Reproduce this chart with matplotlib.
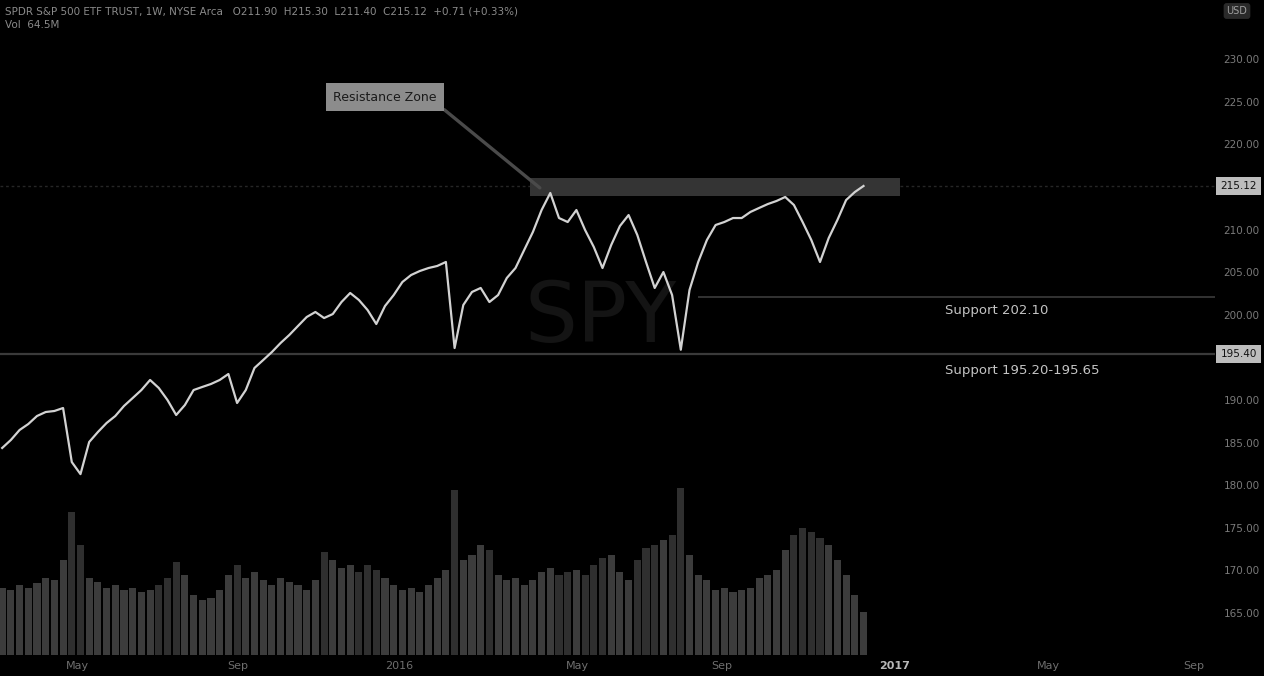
import matplotlib.pyplot as plt
from matplotlib.patches import Rectangle

# Weekly closes
closes = [184.37, 185.31, 186.48, 187.18, 188.12, 188.59, 188.71, 189.06, 182.72, 181.30,
          185.07, 186.24, 187.30, 188.12, 189.30, 190.23, 191.17, 192.35, 191.41, 190.00,
          188.24, 189.41, 191.17, 191.53, 191.88, 192.35, 193.05, 189.65, 191.17, 193.76,
          194.69, 195.63, 196.69, 197.63, 198.69, 199.74, 200.33, 199.62, 200.09, 201.50,
          202.56, 201.74, 200.56, 198.92, 201.03, 202.32, 203.85, 204.67, 205.14, 205.49,
          205.73, 206.20, 196.10, 201.15, 202.68, 203.15, 201.50, 202.32, 204.32, 205.49,
          207.61, 209.72, 212.30, 214.30, 211.36, 210.89, 212.30, 209.95, 207.96, 205.49,
          208.19, 210.42, 211.71, 209.37, 206.20, 203.15, 205.02, 202.32, 195.90, 202.91,
          206.20, 208.78, 210.54, 210.89, 211.36, 211.36, 212.07, 212.54, 213.00, 213.36,
          213.83, 212.89, 210.89, 208.78, 206.20, 209.01, 211.13, 213.47, 214.41, 215.12]

# Weekly volume, millions
volume = [100.5, 97.5, 105, 100.5, 108, 115.5, 112.5, 142.5, 214.5, 165,
          115.5, 109.5, 100.5, 105, 97.5, 100.5, 94.5, 97.5, 105, 115.5,
          139.5, 120, 90, 82.5, 85.5, 97.5, 120, 135, 115.5, 124.5,
          112.5, 105, 115.5, 109.5, 105, 97.5, 112.5, 154.5, 142.5, 130.5,
          135, 124.5, 135, 127.5, 115.5, 105, 97.5, 100.5, 94.5, 105,
          115.5, 127.5, 247.5, 142.5, 150, 165, 157.5, 120, 112.5, 115.5,
          105, 112.5, 124.5, 130.5, 120, 124.5, 127.5, 120, 135, 145.5,
          150, 124.5, 112.5, 142.5, 160.5, 165, 172.5, 180, 250.5, 150,
          120, 112.5, 97.5, 100.5, 94.5, 97.5, 100.5, 115.5, 120, 127.5,
          157.5, 180, 190.5, 184.5, 175.5, 165, 142.5, 120, 90, 64.5]

# Levels
resistance_low = 213.95
resistance_high = 216.05
support_1 = 202.10
support_2 = 195.40
support_1_text = "Support 202.10"
support_2_text = "Support 195.20-195.65"
callout_text = "Resistance Zone"

price_ticks = [165, 170, 175, 180, 185, 190, 200, 205, 210, 220, 225, 230]
time_tick_pos = [8.6, 27.1, 45.6, 66.1, 82.7, 102.6, 120.2, 137.0]
time_tick_labels = ["May", "Sep", "2016", "May", "Sep", "2017", "May", "Sep"]

title_line1 = ("SPDR S&P 500 ETF TRUST, 1W, NYSE Arca   O211.90  H215.30  L211.40  "
               "C215.12  +0.71 (+0.33%)")
title_line2 = "Vol  64.5M"

bg = "#000000"
fig = plt.figure(figsize=(12.64, 6.76), dpi=100, facecolor=bg)
ax = fig.add_axes([0, 21 / 676, 1215 / 1264, 655 / 676])
vax = ax.twinx()
ax.set_zorder(vax.get_zorder() + 1)
ax.patch.set_visible(False)
vax.set_facecolor(bg)

n = len(closes)
idx = list(range(n))

# volume bars
vcolors = ["#3c3c3c" if i == 0 or closes[i] >= closes[i - 1] else "#2f2f2f" for i in idx]
vax.bar(idx, volume, width=0.82, color=vcolors, linewidth=0)
vax.set_ylim(0, 982.5)
vax.set_yticks([])

# levels
ax.axhline(closes[-1], color="#262626", linewidth=1, linestyle=(0, (2, 2)), zorder=1)
ax.hlines(support_2, -0.25, 139.4, color="#3a3a3a", linewidth=1.6, zorder=1)
ax.hlines(support_1, 80, 139.4, color="#333333", linewidth=1.4, zorder=1)
ax.add_patch(Rectangle((60.7, resistance_low), 42.5, resistance_high - resistance_low,
                       facecolor="#343434", edgecolor="none", zorder=1))

# watermark
ax.text(0.494, 0.514, "SPY", transform=ax.transAxes, fontsize=60, color="#141414",
        ha="center", va="center", zorder=0)

# price
ax.plot(idx, closes, color="#d2d2d2", linewidth=1.6, zorder=3)

ax.set_xlim(-0.25, 139.4)
ax.set_ylim(160.07, 236.95)

# callout
ax.annotate(callout_text, xy=(61.8, 214.9), xytext=(44.0, 225.56), fontsize=9,
            color="#1a1a1a", ha="center", va="center",
            bbox=dict(boxstyle="square,pad=0.6", fc="#8c8c8c", ec="none"),
            arrowprops=dict(arrowstyle="-", color="#4a4a4a", lw=2.4, relpos=(1, 0),
                            shrinkA=0, shrinkB=0), zorder=4)

ax.text(108.4, 200.56, support_1_text, fontsize=9.5, color="#c4c4c4", va="center", zorder=4)
ax.text(108.4, 193.52, support_2_text, fontsize=9.5, color="#c4c4c4", va="center", zorder=4)

# axes styling
for s in ax.spines.values():
    s.set_visible(False)
for s in vax.spines.values():
    s.set_visible(False)
ax.yaxis.tick_right()
ax.set_yticks(price_ticks)
ax.set_yticklabels([f"{p:.2f}" for p in price_ticks])
ax.tick_params(axis="y", length=0, pad=6, labelsize=7.5, labelcolor="#7a7a7a")
ax.set_xticks(time_tick_pos)
ax.set_xticklabels(time_tick_labels)
ax.tick_params(axis="x", length=0, pad=4, labelsize=8, labelcolor="#6e6e6e")
ax.get_xticklabels()[5].set_color("#b8b8b8")
ax.get_xticklabels()[5].set_fontweight("bold")

# highlighted price labels
for val in [closes[-1], support_2]:
    ax.annotate(f"{val:.2f}", xy=(1.0, val), xycoords=("axes fraction", "data"),
                xytext=(4, 0), textcoords="offset points", fontsize=7.5, color="#111111",
                va="center", ha="left", annotation_clip=False,
                bbox=dict(boxstyle="square,pad=0.4", fc="#bdbdbd", ec="none"))

# header
fig.text(0.004, 1 - 12 / 676, title_line1, fontsize=7.5, color="#8a8a8a", va="center")
fig.text(0.004, 1 - 25 / 676, title_line2, fontsize=7.5, color="#8a8a8a", va="center")
fig.text(1237 / 1264, 1 - 11 / 676, "USD", fontsize=7, color="#a0a0a0", ha="center",
         va="center", bbox=dict(boxstyle="round,pad=0.3", fc="#2a2a2a", ec="none"))

fig.savefig("out.png", dpi=100, facecolor=bg)
